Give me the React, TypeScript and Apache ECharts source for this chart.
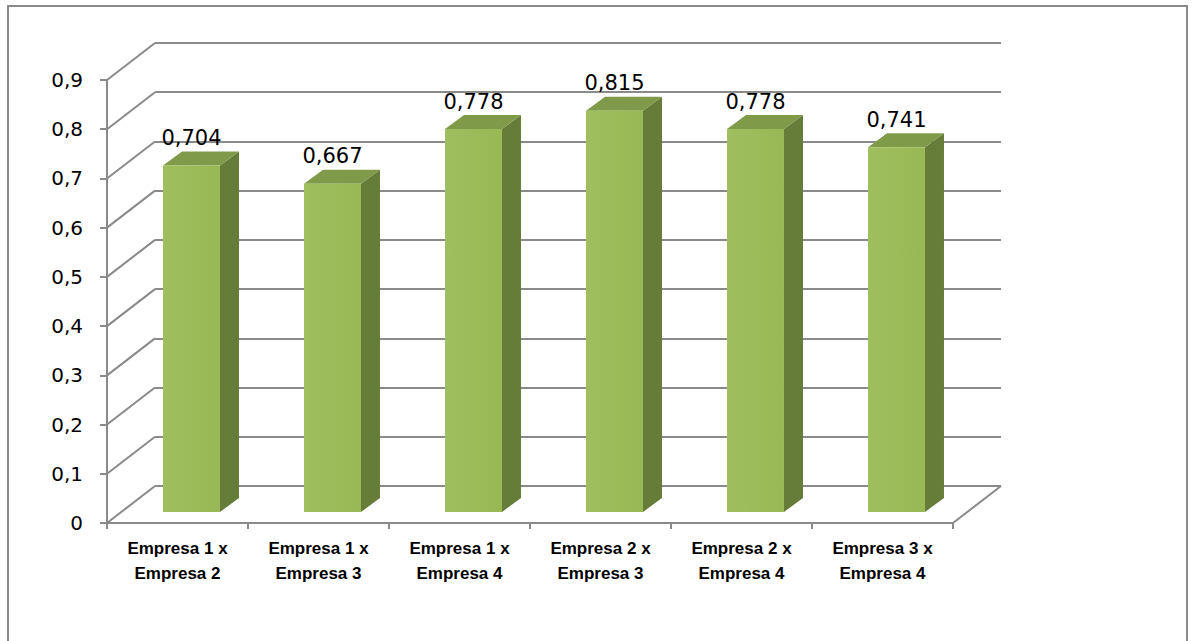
import React, { useEffect, useRef } from "react";
import * as echarts from "echarts";

const categories = [
  "Empresa 1 x\nEmpresa 2",
  "Empresa 1 x\nEmpresa 3",
  "Empresa 1 x\nEmpresa 4",
  "Empresa 2 x\nEmpresa 3",
  "Empresa 2 x\nEmpresa 4",
  "Empresa 3 x\nEmpresa 4",
];
const values = [0.704, 0.667, 0.778, 0.815, 0.778, 0.741];
const yTicks = [0, 0.1, 0.2, 0.3, 0.4, 0.5, 0.6, 0.7, 0.8, 0.9];

const DX = 48; // wall depth in px
const DY = -37;
const GRID_COLOR = "#8a8a8a";

const fmt = (v: number) => {
  const r = Math.round(v * 10) / 10;
  return r === 0 ? "0" : r.toFixed(1).replace(".", ",");
};

export default function App() {
  const ref = useRef<HTMLDivElement>(null);
  useEffect(() => {
    const chart = echarts.init(ref.current!, null, { renderer: "svg" });
    const option: any = {
      animation: false,
      backgroundColor: "#ffffff",
      graphic: [
        {
          type: "rect",
          shape: { x: 8, y: 6, width: 1179, height: 660 },
          style: { fill: "none", stroke: "#8a8a8a", lineWidth: 2 },
          z: -10,
        },
      ],
      grid: [
        { left: 107, right: 241, top: 80, bottom: 118 },
        { left: 107 + DX, right: 241 - DX, top: 80 + DY, bottom: 118 - DY },
      ],
      xAxis: [
        {
          type: "category",
          gridIndex: 0,
          data: categories,
          axisLine: { show: true, lineStyle: { color: GRID_COLOR, width: 2 } },
          axisTick: { show: true, length: 6, lineStyle: { color: GRID_COLOR, width: 2 } },
          axisLabel: {
            margin: 13,
            color: "#000",
            fontFamily: "Liberation Sans",
            fontWeight: "bold",
            fontSize: 17,
            lineHeight: 25,
          },
        },
        {
          type: "category",
          gridIndex: 1,
          data: categories,
          show: false,
        },
      ],
      yAxis: [
        {
          type: "value",
          gridIndex: 0,
          min: 0,
          max: 0.9,
          interval: 0.1,
          splitLine: { show: false },
          axisLine: { show: true, lineStyle: { color: GRID_COLOR, width: 2 } },
          axisTick: { show: true, length: 7, lineStyle: { color: GRID_COLOR, width: 2 } },
          axisLabel: {
            margin: 24,
            color: "#000",
            fontFamily: "DejaVu Sans",
            fontSize: 20,
            formatter: fmt,
          },
        },
        {
          type: "value",
          gridIndex: 1,
          min: 0,
          max: 0.9,
          interval: 0.1,
          axisLine: { show: false },
          axisTick: { show: false },
          axisLabel: { show: false },
          splitLine: { show: true, lineStyle: { color: GRID_COLOR, width: 2 } },
        },
      ],
      series: [
        {
          type: "custom",
          xAxisIndex: 0,
          yAxisIndex: 0,
          clip: false,
          z: 1,
          data: yTicks.map((t) => [0, t]),
          renderItem: (params: any, api: any) => {
            const v = api.value(1);
            const p = api.coord([0, v]);
            const x0 = params.coordSys.x;
            const children: any[] = [
              {
                type: "line",
                shape: { x1: x0, y1: p[1], x2: x0 + DX, y2: p[1] + DY },
                style: { stroke: GRID_COLOR, lineWidth: 2 },
              },
            ];
            if (v === 0) {
              const x1 = params.coordSys.x + params.coordSys.width;
              children.push({
                type: "line",
                shape: { x1: x1, y1: p[1], x2: x1 + DX, y2: p[1] + DY },
                style: { stroke: GRID_COLOR, lineWidth: 2 },
              });
            }
            return { type: "group", children };
          },
        },
        {
          type: "custom",
          xAxisIndex: 0,
          yAxisIndex: 0,
          clip: false,
          z: 5,
          data: values.map((v, i) => [i, v]),
          renderItem: (params: any, api: any) => {
            const i = api.value(0);
            const v = api.value(1);
            const base = api.coord([i, 0]);
            const topP = api.coord([i, v]);
            const bw = api.size([1, 0])[0];
            const ox = 14, oy = -11;
            const half = bw * 0.202;
            const ddx = 19, ddy = -14;
            const fx = base[0] + ox;
            const by = base[1] + oy;
            const ty = topP[1] + oy;
            const L = fx - half, R = fx + half;
            return {
              type: "group",
              children: [
                {
                  type: "polygon",
                  shape: { points: [[R, ty], [R + ddx, ty + ddy], [R + ddx, by + ddy], [R, by]] },
                  style: { fill: "#667c39" },
                },
                {
                  type: "polygon",
                  shape: { points: [[L, ty], [L + ddx, ty + ddy], [R + ddx, ty + ddy], [R, ty]] },
                  style: { fill: "#7f9b49" },
                },
                {
                  type: "rect",
                  shape: { x: L, y: ty, width: R - L, height: by - ty },
                  style: {
                    fill: new echarts.graphic.LinearGradient(0, 0, 1, 0, [
                      { offset: 0, color: "#9fbe5d" },
                      { offset: 1, color: "#98b856" },
                    ]),
                  },
                },
                {
                  type: "text",
                  x: fx,
                  y: ty - 17,
                  style: {
                    text: String(v).replace(".", ","),
                    fill: "#000",
                    fontFamily: "DejaVu Sans",
                    fontSize: 21,
                    align: "center",
                    verticalAlign: "bottom",
                  },
                },
              ],
            };
          },
        },
      ],
    };
    chart.setOption(option);
    return () => chart.dispose();
  }, []);
  return (
    <div
      ref={ref}
      style={{ position: "fixed", left: 0, top: 0, width: 1194, height: 641, background: "#fff" }}
    />
  );
}
